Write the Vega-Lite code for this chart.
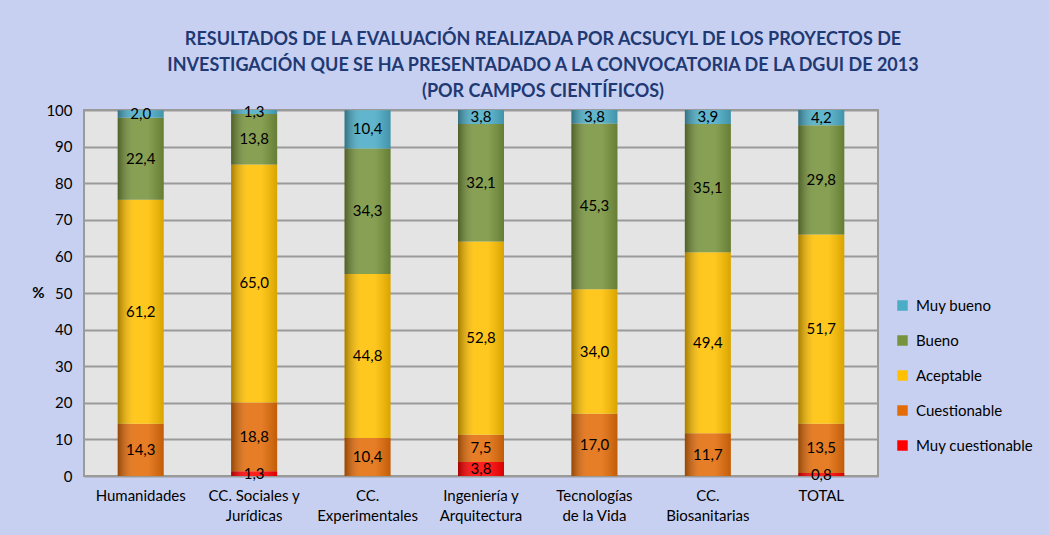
{
  "$schema": "https://vega.github.io/schema/vega-lite/v6.json",
  "width": 794,
  "height": 366,
  "autosize": {"type": "none"},
  "padding": {"left": 84, "top": 110, "right": 171, "bottom": 59},
  "background": "#c8d0f2",
  "config": {
    "locale": {"number": {"decimal": ",", "thousands": ".", "grouping": [3], "currency": ["", " €"]}},
    "view": {"fill": "#e4e4e4", "stroke": "#9a9a9a", "strokeWidth": 2},
    "font": "Lato",
    "axisY": {
      "grid": true,
      "gridColor": "#9a9a9a",
      "gridWidth": 2,
      "ticks": false,
      "domain": false,
      "labelFontSize": 15,
      "labelColor": "#000000",
      "labelPadding": 12,
      "titleAngle": 0,
      "titleX": -46,
      "titleY": 190,
      "titleFontSize": 15,
      "titleFontWeight": "bold",
      "titleColor": "#000000"
    }
  },
  "title": {
    "text": ["RESULTADOS DE LA EVALUACIÓN  REALIZADA POR  ACSUCYL DE LOS PROYECTOS DE", "INVESTIGACIÓN  QUE SE HA PRESENTADADO A LA CONVOCATORIA DE LA DGUI DE 2013", "(POR CAMPOS CIENTÍFICOS)"],
    "fontSize": 18,
    "fontWeight": "bold",
    "color": "#1f3a73",
    "lineHeight": 26,
    "anchor": "middle",
    "dx": 62,
    "offset": 2
  },
  "data": {
    "values": [
      {"campo": "Humanidades", "nivel": "Cuestionable", "orden": 2, "valor": 14.3},
      {"campo": "Humanidades", "nivel": "Aceptable", "orden": 3, "valor": 61.2},
      {"campo": "Humanidades", "nivel": "Bueno", "orden": 4, "valor": 22.4},
      {"campo": "Humanidades", "nivel": "Muy bueno", "orden": 5, "valor": 2.0},
      {"campo": "CC. Sociales y Jurídicas", "nivel": "Muy cuestionable", "orden": 1, "valor": 1.3},
      {"campo": "CC. Sociales y Jurídicas", "nivel": "Cuestionable", "orden": 2, "valor": 18.8},
      {"campo": "CC. Sociales y Jurídicas", "nivel": "Aceptable", "orden": 3, "valor": 65.0},
      {"campo": "CC. Sociales y Jurídicas", "nivel": "Bueno", "orden": 4, "valor": 13.8},
      {"campo": "CC. Sociales y Jurídicas", "nivel": "Muy bueno", "orden": 5, "valor": 1.3},
      {"campo": "CC. Experimentales", "nivel": "Cuestionable", "orden": 2, "valor": 10.4},
      {"campo": "CC. Experimentales", "nivel": "Aceptable", "orden": 3, "valor": 44.8},
      {"campo": "CC. Experimentales", "nivel": "Bueno", "orden": 4, "valor": 34.3},
      {"campo": "CC. Experimentales", "nivel": "Muy bueno", "orden": 5, "valor": 10.4},
      {"campo": "Ingeniería y Arquitectura", "nivel": "Muy cuestionable", "orden": 1, "valor": 3.8},
      {"campo": "Ingeniería y Arquitectura", "nivel": "Cuestionable", "orden": 2, "valor": 7.5},
      {"campo": "Ingeniería y Arquitectura", "nivel": "Aceptable", "orden": 3, "valor": 52.8},
      {"campo": "Ingeniería y Arquitectura", "nivel": "Bueno", "orden": 4, "valor": 32.1},
      {"campo": "Ingeniería y Arquitectura", "nivel": "Muy bueno", "orden": 5, "valor": 3.8},
      {"campo": "Tecnologías de la Vida", "nivel": "Cuestionable", "orden": 2, "valor": 17.0},
      {"campo": "Tecnologías de la Vida", "nivel": "Aceptable", "orden": 3, "valor": 34.0},
      {"campo": "Tecnologías de la Vida", "nivel": "Bueno", "orden": 4, "valor": 45.3},
      {"campo": "Tecnologías de la Vida", "nivel": "Muy bueno", "orden": 5, "valor": 3.8},
      {"campo": "CC. Biosanitarias", "nivel": "Cuestionable", "orden": 2, "valor": 11.7},
      {"campo": "CC. Biosanitarias", "nivel": "Aceptable", "orden": 3, "valor": 49.4},
      {"campo": "CC. Biosanitarias", "nivel": "Bueno", "orden": 4, "valor": 35.1},
      {"campo": "CC. Biosanitarias", "nivel": "Muy bueno", "orden": 5, "valor": 3.9},
      {"campo": "TOTAL", "nivel": "Muy cuestionable", "orden": 1, "valor": 0.8},
      {"campo": "TOTAL", "nivel": "Cuestionable", "orden": 2, "valor": 13.5},
      {"campo": "TOTAL", "nivel": "Aceptable", "orden": 3, "valor": 51.7},
      {"campo": "TOTAL", "nivel": "Bueno", "orden": 4, "valor": 29.8},
      {"campo": "TOTAL", "nivel": "Muy bueno", "orden": 5, "valor": 4.2}
    ]
  },
  "encoding": {
    "x": {
      "field": "campo",
      "type": "nominal",
      "sort": null,
      "title": null,
      "axis": {
        "labelAngle": 0,
        "labelFontSize": 15,
        "labelColor": "#000000",
        "labelPadding": 12,
        "labelLineHeight": 20,
        "ticks": false,
        "domain": false,
        "labelExpr": "datum.label == 'CC. Sociales y Jurídicas' ? ['CC. Sociales y', 'Jurídicas'] : datum.label == 'CC. Experimentales' ? ['CC.', 'Experimentales'] : datum.label == 'Ingeniería y Arquitectura' ? ['Ingeniería y', 'Arquitectura'] : datum.label == 'Tecnologías de la Vida' ? ['Tecnologías', 'de la Vida'] : datum.label == 'CC. Biosanitarias' ? ['CC.', 'Biosanitarias'] : datum.label"
      }
    }
  },
  "layer": [
    {
      "mark": {"type": "bar", "size": 46, "clip": true},
      "encoding": {
        "y": {
          "field": "valor",
          "type": "quantitative",
          "stack": "zero",
          "scale": {"domain": [0, 100]},
          "axis": {"values": [0, 10, 20, 30, 40, 50, 60, 70, 80, 90, 100], "title": "%"}
        },
        "color": {
          "field": "nivel",
          "type": "nominal",
          "scale": {
            "domain": ["Muy bueno", "Bueno", "Aceptable", "Cuestionable", "Muy cuestionable"],
            "range": ["#4bacc6", "#77933c", "#ffc000", "#e36c09", "#ff0000"]
          },
          "legend": {
            "orient": "none",
            "legendX": 811,
            "legendY": 188,
            "title": null,
            "labelFontSize": 15,
            "labelColor": "#000000",
            "symbolType": "square",
            "symbolSize": 110,
            "symbolStrokeWidth": 0,
            "rowPadding": 19,
            "labelOffset": 6
          }
        },
        "order": {"field": "orden", "type": "quantitative", "sort": "ascending"}
      }
    },
    {
      "mark": {
        "type": "bar",
        "size": 46,
        "clip": true,
        "fill": {
          "gradient": "linear",
          "x1": 0, "x2": 1, "y1": 0, "y2": 0,
          "stops": [
            {"offset": 0, "color": "rgba(0,0,0,0.35)"},
            {"offset": 0.35, "color": "rgba(255,255,255,0.12)"},
            {"offset": 0.65, "color": "rgba(255,255,255,0.12)"},
            {"offset": 1, "color": "rgba(0,0,0,0.15)"}
          ]
        }
      },
      "encoding": {
        "y": {"aggregate": "sum", "field": "valor", "type": "quantitative", "axis": {"values": [0, 10, 20, 30, 40, 50, 60, 70, 80, 90, 100], "title": "%"}}
      }
    },
    {
      "transform": [
        {"stack": "valor", "groupby": ["campo"], "sort": [{"field": "orden", "order": "ascending"}], "as": ["v0", "v1"]},
        {"fold": ["v0", "v1"], "as": ["extremo", "pos"]}
      ],
      "mark": {"type": "text", "fontSize": 15, "color": "#000000"},
      "encoding": {
        "y": {"aggregate": "mean", "field": "pos", "type": "quantitative", "axis": {"values": [0, 10, 20, 30, 40, 50, 60, 70, 80, 90, 100], "title": "%"}},
        "detail": {"field": "nivel", "type": "nominal"},
        "text": {"field": "valor", "type": "quantitative", "format": ".1f"}
      }
    }
  ]
}
